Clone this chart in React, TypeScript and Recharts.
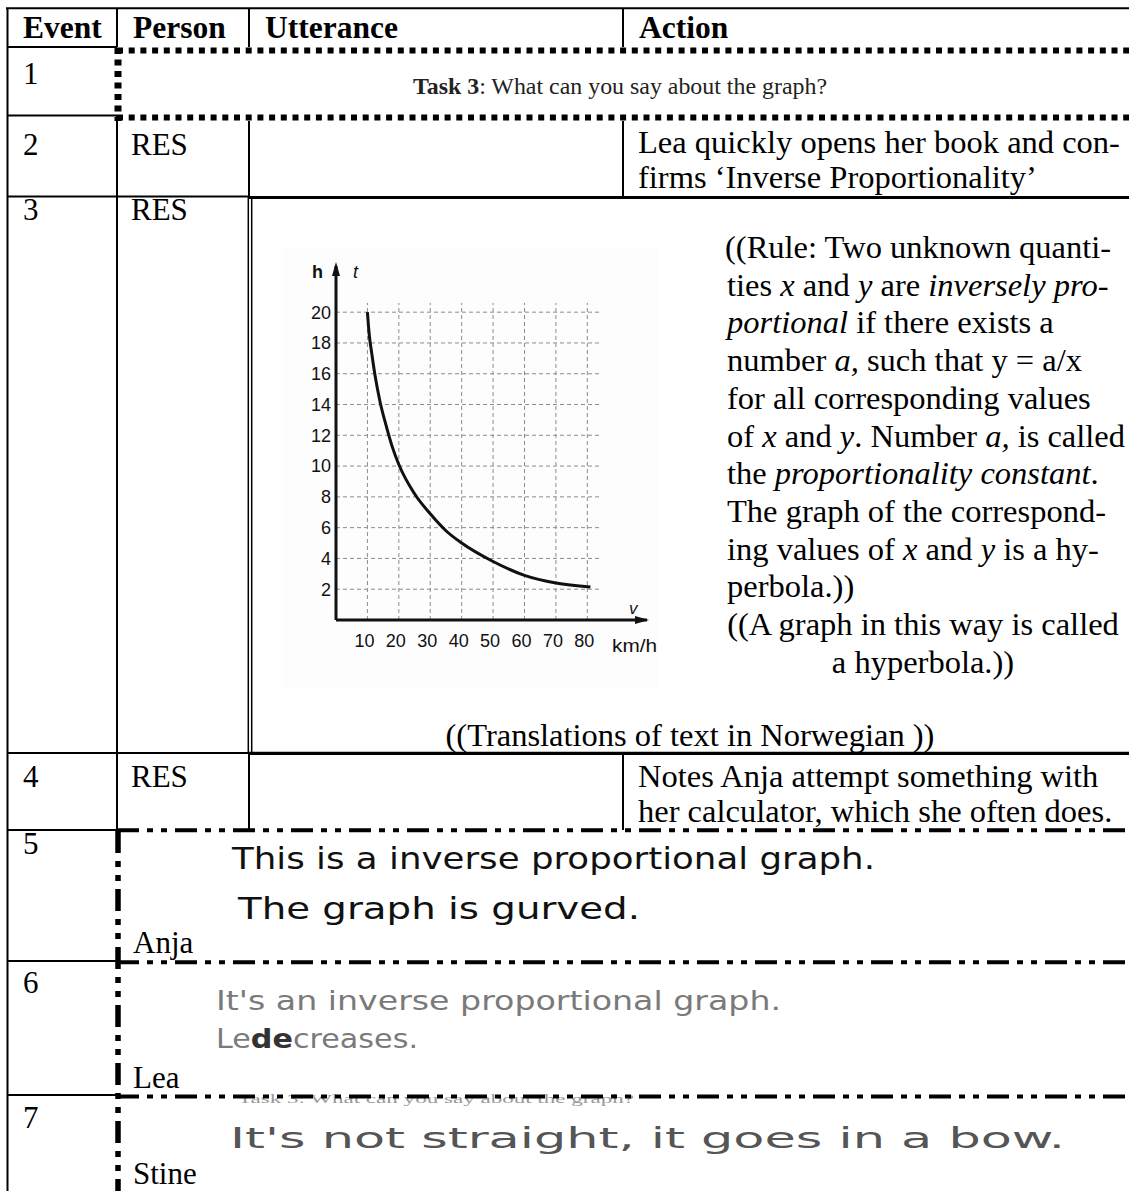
import React from "react";
import { LineChart, Line, XAxis, YAxis, ReferenceLine, ReferenceDot } from "recharts";

// hyperbola (v in km/h, t in h)
const speedTicks = [10, 20, 30, 40, 50, 60, 70, 80];
const timeTicks = [2, 4, 6, 8, 10, 12, 14, 16, 18, 20];
const curveSpeed = [10, 10.6, 11.4, 12.5, 14, 16, 18, 20, 25, 30, 35, 40, 50, 60, 70, 81];
const curveTime = [20, 18.5, 17.3, 15.8, 14.2, 12.6, 11.2, 10.1, 8.2, 6.9, 5.8, 5.0, 3.8, 2.9, 2.4, 2.15];

const curveData = curveSpeed.map((v, i) => ({ v, t: curveTime[i] }));

const SERIF = "'Liberation Serif', 'Times New Roman', serif";
const SANS = "'Liberation Sans', Arial, sans-serif";
const HAND = "'DejaVu Sans', sans-serif";

const ruleLines: React.ReactNode[] = [
  "((Rule: Two unknown quanti-",
  <>ties <tspan fontStyle="italic">x</tspan> and <tspan fontStyle="italic">y</tspan> are <tspan fontStyle="italic">inversely pro-</tspan></>,
  <><tspan fontStyle="italic">portional</tspan> if there exists a</>,
  <>number <tspan fontStyle="italic">a,</tspan> such that y = a/x</>,
  "for all corresponding values",
  <>of <tspan fontStyle="italic">x</tspan> and <tspan fontStyle="italic">y</tspan>. Number <tspan fontStyle="italic">a,</tspan> is called</>,
  <>the <tspan fontStyle="italic">proportionality constant</tspan>.</>,
  "The graph of the correspond-",
  <>ing values of <tspan fontStyle="italic">x</tspan> and <tspan fontStyle="italic">y</tspan> is a hy-</>,
  "perbola.))",
];

const ArrowRight = (p: any) => (
  <polygon points={`${p.cx + 2},${p.cy} ${p.cx - 12},${p.cy - 4} ${p.cx - 12},${p.cy + 4}`} fill="#111" />
);
const ArrowUp = (p: any) => (
  <polygon points={`${p.cx},${p.cy - 4} ${p.cx - 4},${p.cy + 10} ${p.cx + 4},${p.cy + 10}`} fill="#111" />
);

function SpeedTimeGraph() {
  return (
    <LineChart width={400} height={430} data={curveData} margin={{ top: 26, right: 33, left: 0, bottom: 0 }}>
      <XAxis
        dataKey="v"
        type="number"
        domain={[0, 99]}
        ticks={speedTicks}
        interval={0}
        allowDataOverflow
        height={50}
        axisLine={{ stroke: "#111", strokeWidth: 3 }}
        tickLine={false}
        tickSize={6}
        tickMargin={8}
        tick={{ fontSize: 18, fill: "#111", fontFamily: SANS, dx: -3 }}
      />
      <YAxis
        type="number"
        domain={[0, 23]}
        ticks={timeTicks}
        interval={0}
        allowDataOverflow
        width={56}
        axisLine={{ stroke: "#111", strokeWidth: 3 }}
        tickLine={false}
        tickSize={3}
        tickMargin={2}
        tick={{ fontSize: 18, fill: "#111", fontFamily: SANS }}
      />
      {timeTicks.map((t) => (
        <ReferenceLine
          key={"h" + t}
          segment={[{ x: 0, y: t }, { x: 84, y: t }]}
          stroke="#8c8c8c"
          strokeDasharray="4 3"
          ifOverflow="visible"
        />
      ))}
      {speedTicks.map((v) => (
        <ReferenceLine
          key={"v" + v}
          segment={[{ x: v, y: 0 }, { x: v, y: 20.6 }]}
          stroke="#8c8c8c"
          strokeDasharray="4 3"
          ifOverflow="visible"
        />
      ))}
      <Line dataKey="t" type="monotone" stroke="#111" strokeWidth={3} dot={false} isAnimationActive={false} />
      <ReferenceDot x={99} y={0} r={0} shape={ArrowRight} ifOverflow="visible" />
      <ReferenceDot x={0} y={23} r={0} shape={ArrowUp} ifOverflow="visible" />
    </LineChart>
  );
}

export default function App() {
  const dashDot = "22 8 6 8 6 8";
  const dots = "6 5.7";
  return (
    <div style={{ position: "absolute", left: 0, top: 0, width: 1129, height: 1191, background: "#fff", overflow: "hidden" }}>
      <svg width={1129} height={1191} style={{ position: "absolute", left: 0, top: 0 }} fontFamily={SERIF}>
        {/* faint scan behind the textbook graph */}
        <rect x={283} y={247} width={375} height={441} fill="#fdfdfd" />

        {/* outer frame */}
        <g stroke="#000" strokeWidth={2}>
          <line x1={6} y1={8.3} x2={1129} y2={8.3} />
          <line x1={7.5} y1={8} x2={7.5} y2={1191} />
          {/* header */}
          <line x1={117} y1={8} x2={117} y2={47} />
          <line x1={249} y1={8} x2={249} y2={47} />
          <line x1={623} y1={8} x2={623} y2={47} />
          <line x1={7} y1={47} x2={117} y2={47} />
          {/* row 1 */}
          <line x1={7} y1={115.5} x2={117} y2={115.5} />
          {/* row 2 */}
          <line x1={117} y1={115} x2={117} y2={196} />
          <line x1={249} y1={121} x2={249} y2={196} />
          <line x1={623} y1={121} x2={623} y2={196} />
          <line x1={7} y1={196.5} x2={249} y2={196.5} />
          {/* row 3 */}
          <line x1={117} y1={196} x2={117} y2={753} />
          <line x1={248.3} y1={196} x2={248.3} y2={753} strokeWidth={1.5} />
          <line x1={251.7} y1={196} x2={251.7} y2={753} strokeWidth={1.5} />
          <line x1={7} y1={753} x2={249} y2={753} />
          {/* row 4 */}
          <line x1={117} y1={753} x2={117} y2={830} />
          <line x1={249} y1={753} x2={249} y2={830} />
          <line x1={623} y1={753} x2={623} y2={830} />
          <line x1={7} y1={830} x2={117} y2={830} />
          {/* rows 5-6 event column */}
          <line x1={7} y1={961} x2={117} y2={961} />
          <line x1={7} y1={1095} x2={117} y2={1095} />
        </g>
        <g stroke="#000" strokeWidth={3.2}>
          <line x1={248} y1={197.5} x2={1129} y2={197.5} />
          <line x1={248} y1={753.3} x2={1129} y2={753.3} />
        </g>

        {/* task sheet strip */}
        <g stroke="#000" strokeWidth={6} strokeDasharray={dots}>
          <line x1={117} y1={50.5} x2={1129} y2={50.5} />
          <line x1={117} y1={117.5} x2={1129} y2={117.5} />
        </g>
        <line x1={118} y1={48} x2={118} y2={121} stroke="#000" strokeWidth={7} strokeDasharray="6 5.5" />

        {/* faint cut-off line of the scanned sheet */}
        <text x={238} y={1103} fontSize={13} fill="#999" fontFamily={SERIF} textLength={396} lengthAdjust="spacingAndGlyphs">
          Task 3: What can you say about the graph?
        </text>

        {/* student answer strips */}
        <g stroke="#000" strokeWidth={4} strokeDasharray={dashDot}>
          <line x1={117} y1={830.3} x2={1129} y2={830.3} />
          <line x1={117} y1={962.3} x2={1129} y2={962.3} />
          <line x1={117} y1={1096.5} x2={1129} y2={1096.5} />
        </g>
        <line x1={118} y1={831} x2={118} y2={1191} stroke="#000" strokeWidth={5.5} strokeDasharray={dashDot} />

        {/* header */}
        <g fontSize={31.5} fontWeight="bold" fill="#000">
          <text x={23} y={38}>Event</text>
          <text x={133} y={38}>Person</text>
          <text x={265} y={38}>Utterance</text>
          <text x={639} y={38}>Action</text>
        </g>

        <g fontSize={31} fill="#000">
          <text x={23} y={84}>1</text>
          <text x={23} y={155}>2</text>
          <text x={131} y={155}>RES</text>
          <text x={23} y={220}>3</text>
          <text x={131} y={220}>RES</text>
          <text x={23} y={787}>4</text>
          <text x={131} y={787}>RES</text>
          <text x={23} y={854}>5</text>
          <text x={133} y={953}>Anja</text>
          <text x={23} y={993}>6</text>
          <text x={133} y={1088}>Lea</text>
          <text x={23} y={1128}>7</text>
          <text x={133} y={1184}>Stine</text>
        </g>

        <g fontSize={32.5} fill="#000">
          <text x={638} y={153}>Lea quickly opens her book and con-</text>
          <text x={638} y={188}>firms ‘Inverse Proportionality’</text>
          <text x={638} y={787}>Notes Anja attempt something with</text>
          <text x={638} y={822}>her calculator, which she often does.</text>
        </g>

        <text x={413} y={94} fontSize={24} fill="#222" textLength={414} lengthAdjust="spacingAndGlyphs">
          <tspan fontWeight="bold">Task 3</tspan>: What can you say about the graph?
        </text>

        {/* translated rule */}
        <g fontSize={32.5} fill="#000">
          {ruleLines.map((ln, i) => (
            <text key={i} x={i === 0 ? 725 : 727} y={258 + i * 37.7}>
              {ln}
            </text>
          ))}
          <text x={923} y={258 + 10 * 37.7} textAnchor="middle">((A graph in this way is called</text>
          <text x={923} y={258 + 11 * 37.7} textAnchor="middle">a hyperbola.))</text>
          <text x={690} y={746} textAnchor="middle">((Translations of text in Norwegian ))</text>
        </g>

        {/* axis names of the textbook graph */}
        <g fontFamily={SANS} fill="#111">
          <text x={312} y={278} fontSize={18} fontWeight="bold">h</text>
          <text x={353} y={278} fontSize={18} fontStyle="italic">t</text>
          <text x={629} y={614} fontSize={17} fontStyle="italic">v</text>
          <text x={612} y={652} fontSize={18} textLength={45} lengthAdjust="spacingAndGlyphs">km/h</text>
        </g>

        {/* handwritten answers */}
        <g fontFamily={HAND}>
          <text x={232} y={869} fontSize={31} fill="#111" textLength={643} lengthAdjust="spacingAndGlyphs">
            This is a inverse proportional graph.
          </text>
          <text x={238} y={919} fontSize={31} fill="#111" textLength={402} lengthAdjust="spacingAndGlyphs">
            The graph is gurved.
          </text>
          <text x={216} y={1010} fontSize={27} fill="#7a7a7a" textLength={565} lengthAdjust="spacingAndGlyphs">
            It's an inverse proportional graph.
          </text>
          <text x={216} y={1048} fontSize={27} fill="#7a7a7a" textLength={202} lengthAdjust="spacingAndGlyphs">
            Le<tspan fill="#333" fontWeight="bold">de</tspan>creases.
          </text>
          <text x={230} y={1148} fontSize={28} fill="#555" textLength={835} lengthAdjust="spacingAndGlyphs">
            It's not straight, it goes in a bow.
          </text>
        </g>
      </svg>

      <div style={{ position: "absolute", left: 280, top: 240 }}>
        <SpeedTimeGraph />
      </div>
    </div>
  );
}
